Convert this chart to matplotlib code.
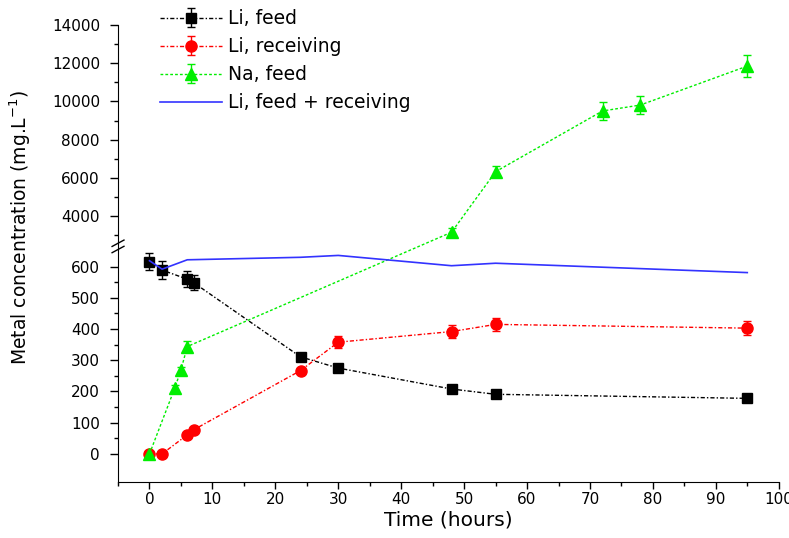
import numpy as np
import matplotlib
matplotlib.use("Agg")
import matplotlib.pyplot as plt

# --- data ---
t_li_feed = [0, 2, 6, 7, 24, 30, 48, 55, 95]
li_feed = [616, 589, 560, 549, 311, 275, 208, 191, 178]
li_feed_err = [28, 28, 25, 25, 8, 6, 5, 5, 5]

t_li_rec = [0, 2, 6, 7, 24, 30, 48, 55, 95]
li_rec = [0, 0, 61, 77, 267, 358, 392, 415, 403]
li_rec_err = [3, 3, 5, 5, 8, 19, 22, 22, 23]

t_na = [0, 4, 5, 6, 48, 55, 72, 78, 95]
na_feed = [0, 210, 269, 344, 3150, 6320, 9500, 9810, 11850]
na_err = [5, 10, 10, 18, 200, 300, 480, 460, 570]

t_li_tot = [0, 2, 6, 24, 30, 48, 55, 95]
li_tot = [619, 592, 622, 630, 636, 603, 611, 581]

x_ticks = list(range(0, 101, 10))
y_ticks = [0, 100, 200, 300, 400, 500, 600, 4000, 6000, 8000, 10000, 12000, 14000]
y_minor = [50, 150, 250, 350, 450, 550, 3000, 5000, 7000, 9000, 11000, 13000]

# broken y axis: linear up to 650, compressed above 2500
LOW_TOP, HIGH_BOT = 650, 2500
T0 = 670.5
R = 0.0612
yp = np.array([-1e6, LOW_TOP, HIGH_BOT, 1e6])
tp = np.array([-1e6, LOW_TOP, T0, T0 + (1e6 - HIGH_BOT) * R])


def fwd(y):
    return np.interp(np.asarray(y, float), yp, tp)


def inv(t):
    return np.interp(np.asarray(t, float), tp, yp)


plt.rcParams["font.family"] = "DejaVu Sans"

fig = plt.figure(figsize=(7.89, 5.38), dpi=100)
ax = fig.add_axes([0.1496, 0.1041, 0.8374, 0.8494])
ax.set_yscale("function", functions=(fwd, inv))

kw = dict(linewidth=1.0, capsize=3, elinewidth=1.0, capthick=1.0)
ax.errorbar(t_li_feed, li_feed, yerr=li_feed_err, color="black", marker="s",
            markersize=7, linestyle=(0, (3, 1.5, 1, 1.5)), label="Li, feed", zorder=4, **kw)
ax.errorbar(t_li_rec, li_rec, yerr=li_rec_err, color="#ff0000", marker="o",
            markersize=8, linestyle=(0, (3, 1.5, 1, 1.5)), label="Li, receiving", zorder=4, **kw)
ax.errorbar(t_na, na_feed, yerr=na_err, color="#00ee00", marker="^",
            markersize=8, linestyle=(0, (2, 1.5)), label="Na, feed", zorder=4, **kw)
ax.plot(t_li_tot, li_tot, color="#3333ff", linewidth=1.2,
        label="Li, feed + receiving", zorder=5)

ax.set_xlim(-5, 100)
ax.set_ylim(-90, 14000)
ax.set_xticks(x_ticks)
ax.set_xticks(list(range(-5, 101, 5)), minor=True)
ax.set_yticks(y_ticks)
ax.set_yticks(y_minor, minor=True)
ax.set_yticklabels([str(v) for v in y_ticks])

for s in ["top", "right"]:
    ax.spines[s].set_visible(False)
ax.tick_params(which="major", direction="out", length=5, width=1, labelsize=11)
ax.tick_params(which="minor", direction="out", length=3, width=1)
ax.tick_params(axis="x", which="major", pad=2)
ax.tick_params(axis="y", which="major", length=6, pad=7)

# break marks on the y axis
trans = ax.transAxes
for tb in (655, 675):
    ya = (tb - fwd(-90)) / (fwd(14000) - fwd(-90))
    ax.plot([-0.009, 0.009], [ya - 0.007, ya + 0.007], transform=trans,
            color="black", linewidth=1, clip_on=False, zorder=6)

ax.set_xlabel("Time (hours)", fontsize=14.5, labelpad=3)
ax.set_ylabel("Metal concentration (mg.L$^{-1}$)", fontsize=13.5)
ax.yaxis.set_label_coords(-0.129, 0.558)

handles, labels = ax.get_legend_handles_labels()
order = [labels.index(n) for n in ["Li, feed", "Li, receiving", "Na, feed", "Li, feed + receiving"]]
ax.legend([handles[i] for i in order], [labels[i] for i in order],
          loc="upper left", bbox_to_anchor=(0.193, 0.997), bbox_transform=fig.transFigure,
          frameon=False, fontsize=13.5, handlelength=3.3, labelspacing=0.48,
          handletextpad=0.32, borderaxespad=0)

fig.savefig("out.png", dpi=100)
